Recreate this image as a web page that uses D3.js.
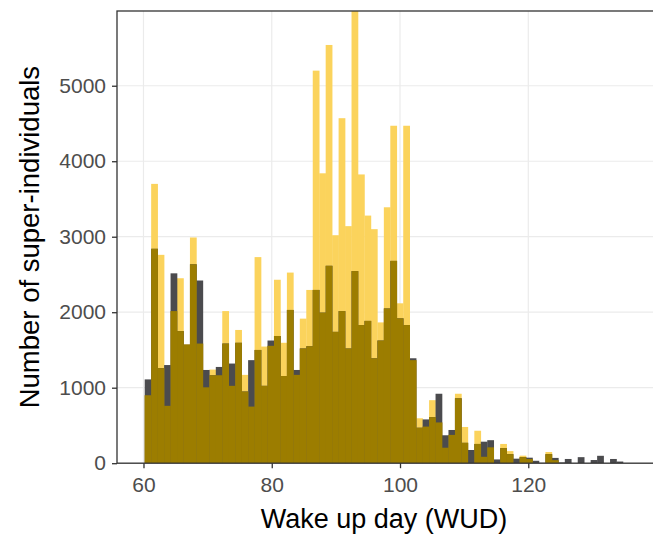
<!DOCTYPE html>
<html>
<head>
<meta charset="utf-8">
<script src="https://cdn.jsdelivr.net/npm/d3@7"></script>
<style>
  html, body { margin: 0; padding: 0; background: #ffffff; }
  svg { display: block; font-family: "Liberation Sans", Arial, sans-serif; }
</style>
</head>
<body>
<svg id="chart" width="653" height="536"></svg>
<script>
// ---- data (histogram of wake-up day, two overlapping series) ----
const binStart = 60.19;
const binWidth = 1.0078;
const yellowCounts = [
  900, 3700, 2760, 760, 2015, 2450, 1575, 2990, 1585, 1005,
  1240, 1165, 2015, 1025, 1765, 1170, 750, 2730, 1545, 1555,
  2430, 1595, 2525, 1170, 1915, 2295, 5200, 3840, 5540, 3020,
  4570, 3140, 5990, 3825, 3280, 3100, 1865, 3390, 4470, 2118,
  4470, 1365, 595, 485, 835, 540, 205, 375, 920, 480,
  0, 430, 85, 210, 0, 255, 160, 0, 100, 55,
  0, 0, 148, 40, 0, 0, 0, 0, 0, 0,
  0, 0, 0, 0
];
const darkCounts = [
  1110, 2840, 1260, 1300, 2515, 1750, 1570, 2635, 2420, 1235,
  1165, 1275, 1585, 1320, 1595, 950, 1365, 1500, 1025, 1625,
  1685, 1155, 2030, 1235, 1520, 1550, 2295, 1995, 2615, 1740,
  2015, 1520, 2545, 1830, 1885, 1390, 1625, 2050, 2680, 1919,
  1830, 1390, 470, 580, 610, 920, 370, 440, 860, 270,
  175, 255, 285, 305, 50, 200, 120, 60, 80, 73,
  32, 5, 120, 70, 10, 56, 0, 80, 0, 42,
  98, 0, 56, 22
];
const xTickValues = [60, 80, 100, 120];
const yTickValues = [0, 1000, 2000, 3000, 4000, 5000];
const xTitle = "Wake up day (WUD)";
const yTitle = "Number of super-individuals";

// ---- layout ----
const panel = { left: 117, top: 11, right: 655, bottom: 463.2 };
const colYellow = "#FBD35C";
const colDark = "#4B4B4E";
const colBoth = "#9C7D00";

const svg = d3.select("#chart");
const x = d3.scaleLinear().domain([55.87, 139.76]).range([panel.left, panel.right]);
const y = d3.scaleLinear().domain([0, d3.max(yellowCounts)]).range([panel.bottom, panel.top]);

const bins = yellowCounts.map((v, i) => ({
  x0: binStart + i * binWidth,
  x1: binStart + (i + 1) * binWidth,
  yel: v,
  dark: darkCounts[i],
  both: Math.min(v, darkCounts[i])
}));

svg.append("defs").append("clipPath").attr("id", "clip")
  .append("rect")
  .attr("x", panel.left).attr("y", panel.top)
  .attr("width", panel.right - panel.left).attr("height", panel.bottom - panel.top);

// grid
const grid = svg.append("g");
grid.selectAll("line.gx").data(xTickValues).join("line")
  .attr("x1", d => x(d)).attr("x2", d => x(d))
  .attr("y1", panel.top).attr("y2", panel.bottom)
  .attr("stroke", "#ebebeb").attr("stroke-width", 1.2);
grid.selectAll("line.gy").data(yTickValues).join("line")
  .attr("x1", panel.left).attr("x2", panel.right)
  .attr("y1", d => y(d)).attr("y2", d => y(d))
  .attr("stroke", "#ebebeb").attr("stroke-width", 1.2);

// bars
const bars = svg.append("g").attr("clip-path", "url(#clip)");
function layer(key, color) {
  bars.append("g").selectAll("rect").data(bins.filter(b => b[key] > 0)).join("rect")
    .attr("x", d => x(d.x0))
    .attr("width", d => x(d.x1) - x(d.x0) + 0.3)
    .attr("y", d => y(d[key]))
    .attr("height", d => y(0) - y(d[key]))
    .attr("fill", color);
}
layer("yel", colYellow);
layer("dark", colDark);
layer("both", colBoth);

// panel border
svg.append("rect")
  .attr("x", panel.left).attr("y", panel.top)
  .attr("width", panel.right - panel.left).attr("height", panel.bottom - panel.top)
  .attr("fill", "none").attr("stroke", "#333333").attr("stroke-width", 1.3);

// axes
const xAxis = svg.append("g")
  .attr("transform", `translate(0,${panel.bottom})`)
  .call(d3.axisBottom(x).tickValues(xTickValues).tickSize(5).tickPadding(9).tickFormat(d3.format("d")));
const yAxis = svg.append("g")
  .attr("transform", `translate(${panel.left},0)`)
  .call(d3.axisLeft(y).tickValues(yTickValues).tickSize(5).tickPadding(6).tickFormat(d3.format("d")));
[xAxis, yAxis].forEach(a => {
  a.select(".domain").remove();
  a.selectAll(".tick line").attr("stroke", "#333333").attr("stroke-width", 1.3);
  a.selectAll(".tick text").attr("fill", "#4d4d4d")
    .style("font-size", "21px").style("font-family", "Liberation Sans, Arial, sans-serif");
});

// titles
svg.append("text")
  .attr("x", (panel.left + 651) / 2).attr("y", 528)
  .attr("text-anchor", "middle")
  .style("font-size", "27px").attr("fill", "#000")
  .text(xTitle);
svg.append("text")
  .attr("transform", `translate(39,${(panel.top + panel.bottom) / 2}) rotate(-90)`)
  .attr("text-anchor", "middle")
  .style("font-size", "27.5px").attr("fill", "#000")
  .text(yTitle);
</script>
</body>
</html>
